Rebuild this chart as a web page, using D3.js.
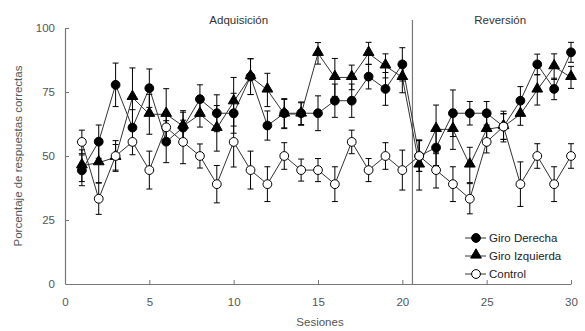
<!DOCTYPE html>
<html>
<head>
<meta charset="utf-8">
<script src="https://cdn.jsdelivr.net/npm/d3@7"></script>
<style>
  body { margin: 0; background: #fff; }
  text { font-family: "Liberation Sans", Arial, sans-serif; }
</style>
</head>
<body>
<div id="chart"></div>
<script>
const sessions = d3.range(1, 31);
const derecha = [44.4, 55.6, 77.8, 61.1, 76.5, 55.6, 61.1, 72.2, 66.7, 66.7, 81.0, 61.9, 66.7, 66.7, 66.7, 71.6, 71.6, 81.0, 76.2, 85.8,
                 50.0, 53.3, 66.7, 66.7, 66.7, 61.5, 71.6, 85.8, 76.2, 90.5];
const derechaErr = [6, 6.5, 8.5, 7, 7.5, 8.2, 6, 5.6, 7.2, 7.8, 7, 5.7, 5.7, 4.4, 6.8, 6.5, 6.5, 4.8, 6.4, 6.5,
                    6, 7, 9.1, 4.6, 4.6, 6, 5.5, 4, 4.2, 3.9];
const izquierda = [46.2, 47.4, 49.5, 72.9, 66.3, 66.3, 61.7, 66.3, 60.8, 71.2, 81.0, 75.8, 66.4, 66.4, 90.1, 80.7, 80.7, 90.1, 85.2, 80.7,
                   46.5, 60.4, 60.4, 46.5, 60.4, 61.5, 66.3, 75.8, 84.9, 80.7];
const izquierdaErr = [6.2, 7.8, 5, 11.5, 7.8, 10, 6, 5, 8.9, 9.5, 7, 6.5, 5.7, 4.4, 4.2, 7.4, 4.8, 4.3, 4.7, 6,
                      9.8, 9.5, 7.8, 6.9, 6, 5, 4.3, 5.9, 5, 4.3];
const control = [55.5, 33.3, 50, 55.5, 44.5, 61.2, 55.5, 50, 39, 55.5, 44.5, 39, 50, 44.5, 44.5, 39, 55.5, 44.5, 50, 44.5,
                 50, 44.5, 39, 33.3, 55.5, 61.5, 39, 50, 39, 50];
const controlErr = [4.6, 6.1, 6, 5, 7.4, 6, 8.5, 4.7, 7.3, 9.8, 7.4, 6.8, 5.2, 4.3, 4.5, 6.8, 4.6, 4.5, 5.2, 7.8,
                    6, 7, 6.8, 5.9, 4.3, 5, 8.7, 4.8, 6.8, 4.8];
const xTicks = [0, 5, 10, 15, 20, 25, 30];
const yTicks = [0, 25, 50, 75, 100];
const phaseSplit = 20.6;
const phases = [{ label: "Adquisición", x: 10.3 }, { label: "Reversión", x: 25.8 }];

const width = 585, height = 331;
const margin = { left: 65, right: 14, top: 28, bottom: 47 };

const svg = d3.select("#chart").append("svg")
    .attr("width", width)
    .attr("height", height);

const x = d3.scaleLinear().domain([0, 30]).range([margin.left, width - margin.right]);
const y = d3.scaleLinear().domain([0, 100]).range([height - margin.bottom, margin.top]);

// axes
const xAxis = svg.append("g")
    .attr("transform", `translate(0,${y(0)})`)
    .call(d3.axisBottom(x).tickValues(xTicks).tickSize(-4).tickPadding(14).tickSizeOuter(0));
const yAxis = svg.append("g")
    .attr("transform", `translate(${x(0)},0)`)
    .call(d3.axisLeft(y).tickValues(yTicks).tickSize(-4).tickPadding(10).tickSizeOuter(0));
[xAxis, yAxis].forEach(a => {
    a.select(".domain").attr("stroke", "#777").attr("stroke-width", 1.2);
    a.selectAll(".tick line").attr("stroke", "#777");
    a.selectAll(".tick text").attr("fill", "#555").style("font-size", "11.5px");
});
yAxis.selectAll(".tick").filter(d => d === 0).select("line").remove();
xAxis.selectAll(".tick").filter(d => d === 0).select("line").remove();

svg.append("text")
    .attr("x", (x(0) + x(30)) / 2 + 2)
    .attr("y", 326)
    .attr("text-anchor", "middle")
    .attr("fill", "#555")
    .style("font-size", "11.5px")
    .text("Sesiones");
svg.append("text")
    .attr("transform", `translate(22,${y(50)}) rotate(-90)`)
    .attr("text-anchor", "middle")
    .attr("fill", "#555")
    .style("font-size", "11.5px")
    .text("Porcentaje de respuestas correctas");

// phase divider
svg.append("line")
    .attr("x1", x(phaseSplit)).attr("x2", x(phaseSplit))
    .attr("y1", y(0)).attr("y2", 20)
    .attr("stroke", "#777").attr("stroke-width", 1.2);
svg.selectAll(".phase").data(phases).enter().append("text")
    .attr("x", d => x(d.x))
    .attr("y", 24)
    .attr("text-anchor", "middle")
    .attr("fill", "#333")
    .style("font-size", "11.5px")
    .text(d => d.label);

const series = [
    { name: "Giro Derecha", values: derecha, err: derechaErr, shape: "circle", fill: "#000" },
    { name: "Giro Izquierda", values: izquierda, err: izquierdaErr, shape: "triangle", fill: "#000" },
    { name: "Control", values: control, err: controlErr, shape: "circle", fill: "#fff" }
];

const line = d3.line().x((d, i) => x(sessions[i])).y(d => y(d));
const triangle = d3.symbol().type(d3.symbolTriangle).size(50);

function drawMarker(sel, s) {
    if (s.shape === "circle") {
        sel.append("circle").attr("r", 4.4)
            .attr("fill", s.fill).attr("stroke", "#000").attr("stroke-width", 1);
    } else {
        sel.append("path").attr("d", triangle)
            .attr("transform", "translate(0,-1)")
            .attr("fill", s.fill).attr("stroke", "#000").attr("stroke-width", 1);
    }
}

series.forEach(s => {
    svg.append("path")
        .datum(s.values)
        .attr("d", line)
        .attr("fill", "none")
        .attr("stroke", "#333")
        .attr("stroke-width", 1);
});

series.forEach(s => {
    const g = svg.append("g");
    const bars = g.selectAll("g").data(s.values).enter().append("g")
        .attr("stroke", "#000").attr("stroke-width", 1);
    bars.append("line")
        .attr("x1", (d, i) => x(sessions[i])).attr("x2", (d, i) => x(sessions[i]))
        .attr("y1", (d, i) => y(d + s.err[i])).attr("y2", (d, i) => y(d - s.err[i]));
    [1, -1].forEach(sign => {
        bars.append("line")
            .attr("x1", (d, i) => x(sessions[i]) - 3).attr("x2", (d, i) => x(sessions[i]) + 3)
            .attr("y1", (d, i) => y(d + sign * s.err[i])).attr("y2", (d, i) => y(d + sign * s.err[i]));
    });
});

series.forEach(s => {
    svg.append("g").selectAll("g").data(s.values).enter().append("g")
        .attr("transform", (d, i) => `translate(${x(sessions[i])},${y(d)})`)
        .each(function () { drawMarker(d3.select(this), s); });
});

// legend
const legend = svg.append("g").selectAll("g").data(series).enter().append("g")
    .attr("transform", (d, i) => `translate(476,${238 + i * 18})`);
legend.append("line").attr("x1", -11).attr("x2", 10).attr("stroke", "#333");
legend.each(function (s) { drawMarker(d3.select(this), s); });
legend.append("text")
    .attr("x", 13).attr("dy", "0.35em")
    .attr("fill", "#222")
    .style("font-size", "11.5px")
    .text(d => d.name);
</script>
</body>
</html>
